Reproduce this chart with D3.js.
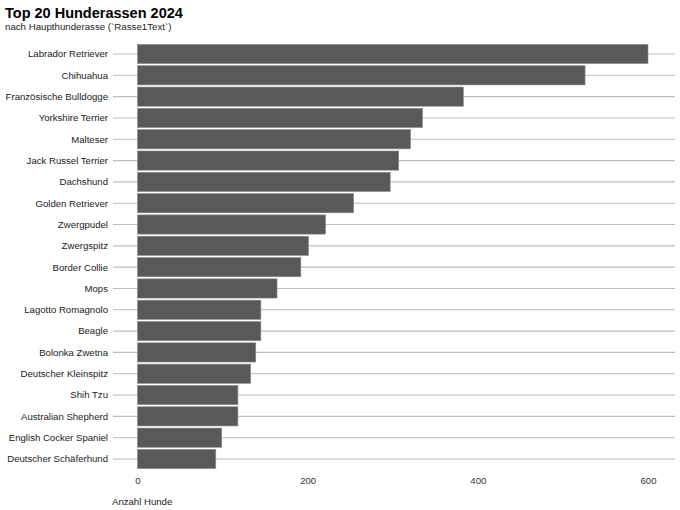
<!DOCTYPE html>
<html>
<head>
<meta charset="utf-8">
<script src="https://cdn.jsdelivr.net/npm/d3@7"></script>
<style>
  body { margin: 0; background: #fff; }
  text { font-family: "Liberation Sans", Arial, sans-serif; }
</style>
</head>
<body>
<div id="chart"></div>
<script>
// breeds, top to bottom
const breeds = [
  'Labrador Retriever', 'Chihuahua', 'Französische Bulldogge', 'Yorkshire Terrier',
  'Malteser', 'Jack Russel Terrier', 'Dachshund', 'Golden Retriever', 'Zwergpudel',
  'Zwergspitz', 'Border Collie', 'Mops', 'Lagotto Romagnolo', 'Beagle',
  'Bolonka Zwetna', 'Deutscher Kleinspitz', 'Shih Tzu', 'Australian Shepherd',
  'English Cocker Spaniel', 'Deutscher Schäferhund'
];
const counts = [600, 526, 383, 335, 321, 307, 297, 254, 221, 201, 192, 164, 145, 145, 139, 133, 118, 118, 99, 92];
const xTicks = [0, 200, 400, 600];

const width = 680, height = 510;

const svg = d3.select('#chart')
  .append('svg')
  .attr('width', width)
  .attr('height', height);

const scaleX = d3.scaleLinear()
  .domain([0, 600])
  .range([137.5, 648]);

const scaleY = d3.scaleBand()
  .domain(breeds)
  .range([43.35, 469.65])
  .paddingInner(0.1)
  .paddingOuter(0.05);

// horizontal grid lines (also serve as the y ticks)
svg.append('g')
  .selectAll('line')
  .data(breeds)
  .join('line')
  .attr('x1', 113)
  .attr('x2', 675)
  .attr('y1', d => scaleY(d) + scaleY.bandwidth() / 2)
  .attr('y2', d => scaleY(d) + scaleY.bandwidth() / 2)
  .attr('stroke', '#bdbdbd')
  .attr('stroke-width', 1.1);

svg.append('g')
  .selectAll('rect')
  .data(breeds)
  .join('rect')
  .attr('x', scaleX(0))
  .attr('y', d => scaleY(d))
  .attr('width', (d, i) => scaleX(counts[i]) - scaleX(0))
  .attr('height', scaleY.bandwidth())
  .attr('fill', '#595959')
  .attr('stroke', '#8a8a8a')
  .attr('stroke-width', 0.6);

// y labels
svg.append('g')
  .selectAll('text')
  .data(breeds)
  .join('text')
  .attr('x', 108)
  .attr('y', d => scaleY(d) + scaleY.bandwidth() / 2)
  .attr('dy', '0.35em')
  .attr('text-anchor', 'end')
  .attr('font-size', 9.6)
  .attr('fill', '#222')
  .text(d => d);

// x axis
const xAxis = svg.append('g')
  .attr('transform', 'translate(0, 474)')
  .call(d3.axisBottom(scaleX).tickValues(xTicks).tickSize(0).tickPadding(3))
  .call(g => g.select('.domain').remove());

xAxis.selectAll('text')
  .attr('font-size', 9.6)
  .attr('fill', '#333')
  .attr('font-family', '"Liberation Sans", Arial, sans-serif');

svg.append('text')
  .attr('x', 112)
  .attr('y', 505)
  .attr('font-size', 9.6)
  .attr('fill', '#222')
  .text('Anzahl Hunde');

svg.append('text')
  .attr('x', 5)
  .attr('y', 18)
  .attr('font-size', 14.5)
  .attr('font-weight', 'bold')
  .attr('fill', '#000')
  .text('Top 20 Hunderassen 2024');

svg.append('text')
  .attr('x', 5)
  .attr('y', 30)
  .attr('font-size', 9.7)
  .attr('fill', '#222')
  .text('nach Haupthunderasse (`Rasse1Text`)');
</script>
</body>
</html>
